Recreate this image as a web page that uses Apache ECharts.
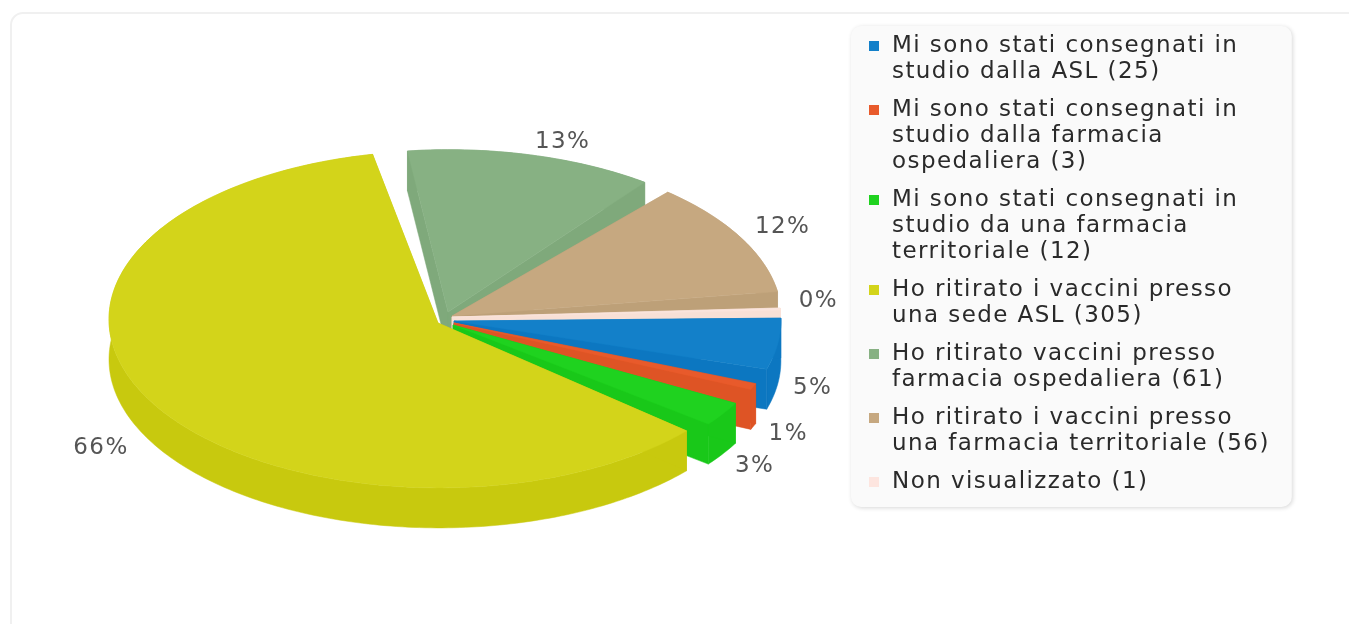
<!DOCTYPE html>
<html>
<head>
<meta charset="utf-8">
<style>
html,body{margin:0;padding:0;background:#fff;overflow:hidden}
#main{width:1349px;height:624px;filter:blur(0.55px)}
</style>
<script src="https://cdn.jsdelivr.net/npm/echarts@6/dist/echarts.min.js"></script>
</head>
<body>
<div id="main"></div>
<script>
// ---- data ----
const categories = [
  "Mi sono stati consegnati in\nstudio dalla ASL",
  "Mi sono stati consegnati in\nstudio dalla farmacia\nospedaliera",
  "Mi sono stati consegnati in\nstudio da una farmacia\nterritoriale",
  "Ho ritirato i vaccini presso\nuna sede ASL",
  "Ho ritirato vaccini presso\nfarmacia ospedaliera",
  "Ho ritirato i vaccini presso\nuna farmacia territoriale",
  "Non visualizzato"
];
const counts = [25, 3, 12, 305, 61, 56, 1];

// ---- styles ----
const topColors  = ["#1380c9", "#e85a2b", "#1fd21f", "#d3d41a", "#87b183", "#c6a880", "#fbe4dc"];
const sideColors = ["#0c77c1", "#de5425", "#19c819", "#c8c90e", "#7fa97b", "#bda078", "#f8e0d6"];
const legendIconColors = ["#1380c9", "#e85a2b", "#1fd21f", "#d3d41a", "#87b183", "#c6a880", "#fde5df"];

// ---- 3D pie layout ----
const cx = 447, cy = 317, rx = 330, depth = 40;
const radiusY = [166, 166, 166, 168.5, 166, 166, 166];
const startDeg = -1, arcScale = 0.92;
const gapsBefore = [0, 5, 5, 3.8, 4.5, 4.4, 5];
const spanAdjust = [0, 0, 0, -1.2, 0, 0, 0];
const arcOffset = [[3.9, 4], [2.4, 4.8], [-0.1, 5.8], [-8, 2.4], [1.3, -1.3], [4.6, 0.6], [4, 2.6]];
const apexOffset = [[7, 4], [7, 6], [6, 8], [-9, 6], [1, -5], [5, -1], [5, 0]];
const drawOrder = [4, 5, 6, 0, 1, 2, 3];
const labelNudge = [[35, 44], [35, 47], [32, 52], [-52.5, 44], [30.5, -13.5], [42.5, -10], [38, -8]];
const textTracking = '1.43px';

// the reference text is set with wider tracking than the font's default
const ctxProto = CanvasRenderingContext2D.prototype;
['fillText', 'measureText'].forEach(fn => {
  const orig = ctxProto[fn];
  ctxProto[fn] = function () {
    this.letterSpacing = textTracking;
    return orig.apply(this, arguments);
  };
});

const total = counts.reduce((a, b) => a + b, 0);
const rad = d => d * Math.PI / 180;

const slices = [];
let cursor = startDeg;
counts.forEach((v, i) => {
  const a0 = cursor + gapsBefore[i];
  const a1 = a0 + v / total * 360 * arcScale + spanAdjust[i];
  slices.push({a0, a1});
  cursor = a1;
});

function renderSlice(i) {
  return function (params, api) {
    const value = api.value(0);
    const s = slices[i];
    const mid = (s.a0 + s.a1) / 2;
    const tx = cx + arcOffset[i][0];
    const ty = cy + arcOffset[i][1];
    const ry = radiusY[i];
    const arc = [];
    const steps = Math.max(2, Math.ceil(s.a1 - s.a0));
    for (let k = 0; k <= steps; k++) {
      const a = rad(s.a0 + (s.a1 - s.a0) * k / steps);
      arc.push([tx + rx * Math.cos(a), ty + ry * Math.sin(a)]);
    }
    const down = p => [p[0], p[1] + depth];
    const tip = [cx + apexOffset[i][0], cy + apexOffset[i][1]];
    const first = arc[0], last = arc[arc.length - 1];
    const side = {fill: sideColors[i], stroke: sideColors[i], lineWidth: 0.5};
    const poly = (points, style) => ({type: 'polygon', shape: {points}, style, silent: true});
    const m = rad(mid);
    const pct = Math.round(value / total * 100) + '%';
    return {
      type: 'group',
      children: [
        poly(arc.concat(arc.slice().reverse().map(down)), side),
        poly([tip, first, down(first), down(tip)], side),
        poly([tip, last, down(last), down(tip)], side),
        poly([tip].concat(arc), {fill: topColors[i], stroke: topColors[i], lineWidth: 0.5}),
        {
          type: 'text',
          silent: true,
          style: {
            x: tx + rx * Math.cos(m) + labelNudge[i][0],
            y: ty + ry * Math.sin(m) + labelNudge[i][1],
            text: pct,
            fill: '#555555',
            font: '23px "DejaVu Sans"',
            align: 'center',
            verticalAlign: 'middle'
          }
        }
      ]
    };
  };
}

const legendNames = categories.map((c, i) => c + ' (' + counts[i] + ')');
const rich = {
  s: {width: 23, height: 26, lineHeight: 26},
  g: {width: 13, height: 26, lineHeight: 26},
  t: {fontSize: 23, lineHeight: 26, fontFamily: 'DejaVu Sans', color: '#2a2a2a'}
};
legendIconColors.forEach((c, i) => {
  rich['i' + i] = {width: 10, height: 10, backgroundColor: c, verticalAlign: 'middle'};
});

const option = {
  animation: false,
  backgroundColor: '#ffffff',
  tooltip: {show: false},
  graphic: [{
    type: 'rect',
    z: -1,
    silent: true,
    shape: {x: 11, y: 13, width: 1500, height: 800, r: 12},
    style: {fill: '#ffffff', stroke: '#f0f0f0', lineWidth: 2}
  }],
  legend: {
    orient: 'vertical',
    left: 851,
    top: 26,
    padding: [7, 22, 12, 13],
    itemGap: 12,
    itemWidth: 0,
    itemHeight: 10,
    icon: 'none',
    selectedMode: false,
    backgroundColor: '#fafafa',
    borderRadius: 10,
    shadowColor: 'rgba(0,0,0,0.16)',
    shadowBlur: 4,
    shadowOffsetX: 1,
    shadowOffsetY: 1,
    data: legendNames,
    textStyle: {fontSize: 23, lineHeight: 26, fontFamily: 'DejaVu Sans', color: '#2a2a2a', rich},
    formatter: function (name) {
      const i = legendNames.indexOf(name);
      return name.split('\n').map((line, k) =>
        (k === 0 ? '{i' + i + '|}{g|}' : '{s|}') + '{t|' + line + '}'
      ).join('\n');
    }
  },
  series: categories.map((c, i) => ({
    type: 'custom',
    name: legendNames[i],
    coordinateSystem: 'none',
    z: 2 + drawOrder.indexOf(i),
    itemStyle: {color: topColors[i]},
    renderItem: renderSlice(i),
    encode: {value: 0},
    data: [[counts[i]]]
  }))
};

const chart = echarts.init(document.getElementById('main'), null, {renderer: 'canvas'});
chart.setOption(option);
</script>
</body>
</html>
